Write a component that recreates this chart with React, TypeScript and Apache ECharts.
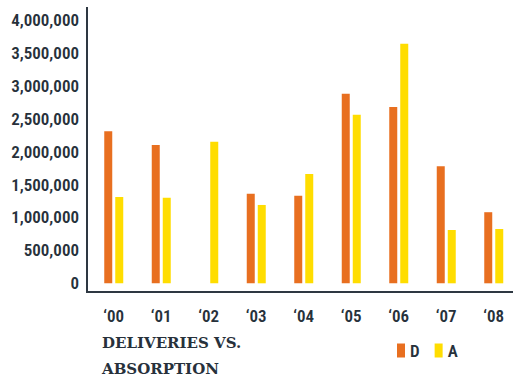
import React, { useEffect, useRef } from "react";
import * as echarts from "echarts";

const categories = ["‘00", "‘01", "‘02", "‘03", "‘04", "‘05", "‘06", "‘07", "‘08"];
const deliveries = [2310000, 2100000, null, 1360000, 1330000, 2880000, 2680000, 1780000, 1080000];
const absorption = [1310000, 1300000, 2150000, 1190000, 1660000, 2560000, 3640000, 810000, 825000];
const seriesNames = ["D", "A"];
const titleLines = ["DELIVERIES VS.", "ABSORPTION"];

const ORANGE = "#E86F20";
const YELLOW = "#FFDD00";
const INK = "#27313B";
const AXIS = "#2E3842";
const SANS = "Roboto Condensed";
const SERIF = "DejaVu Serif";

export default function App() {
  const ref = useRef<HTMLDivElement>(null);
  useEffect(() => {
    if (!ref.current) return;
    const chart = echarts.init(ref.current, null, { renderer: "svg" });
    chart.setOption({
      animation: false,
      backgroundColor: "#ffffff",
      title: {
        text: titleLines.join("\n"),
        left: 102,
        top: 330,
        padding: 0,
        textStyle: {
          color: INK,
          fontFamily: SERIF,
          fontWeight: "bold",
          fontSize: 15,
          lineHeight: 26,
        },
      },
      grid: { left: 90, right: -4.5, top: 20, bottom: 93.7, containLabel: false, outerBoundsMode: "none" },
      xAxis: {
        type: "category",
        data: categories,
        axisLine: { show: false },
        axisTick: { show: false },
        axisLabel: {
          color: INK,
          fontFamily: SANS,
          fontWeight: 600,
          fontSize: 17,
          lineHeight: 17,
          margin: 24,
        },
      },
      yAxis: {
        type: "value",
        min: 0,
        max: 4000000,
        interval: 500000,
        axisLine: { show: false },
        axisTick: { show: false },
        splitLine: { show: false },
        axisLabel: {
          color: INK,
          fontFamily: SANS,
          fontWeight: 600,
          fontSize: 17,
          margin: 11,
          formatter: (v: number) => v.toLocaleString("en-US"),
        },
      },
      legend: {
        left: 392,
        top: 337,
        itemWidth: 8,
        itemHeight: 14,
        itemGap: 15,
        icon: "rect",
        data: seriesNames,
        textStyle: {
          color: INK,
          fontFamily: SANS,
          fontWeight: 600,
          fontSize: 17,
          padding: [2, 0, 0, 0],
        },
      },
      series: [
        {
          name: seriesNames[0],
          type: "bar",
          data: deliveries,
          barWidth: 8,
          barGap: "37.5%",
          itemStyle: { color: ORANGE },
        },
        {
          name: seriesNames[1],
          type: "bar",
          data: absorption,
          barWidth: 8,
          itemStyle: { color: YELLOW },
        },
      ],
      graphic: [
        { type: "line", shape: { x1: 87, y1: 7, x2: 87, y2: 293 }, style: { stroke: AXIS, lineWidth: 2 } },
        { type: "line", shape: { x1: 86, y1: 292, x2: 513, y2: 292 }, style: { stroke: AXIS, lineWidth: 2 } },
      ],
    });
    return () => chart.dispose();
  }, []);
  return <div ref={ref} style={{ width: 513, height: 377, position: "absolute", left: 0, top: 0 }} />;
}
